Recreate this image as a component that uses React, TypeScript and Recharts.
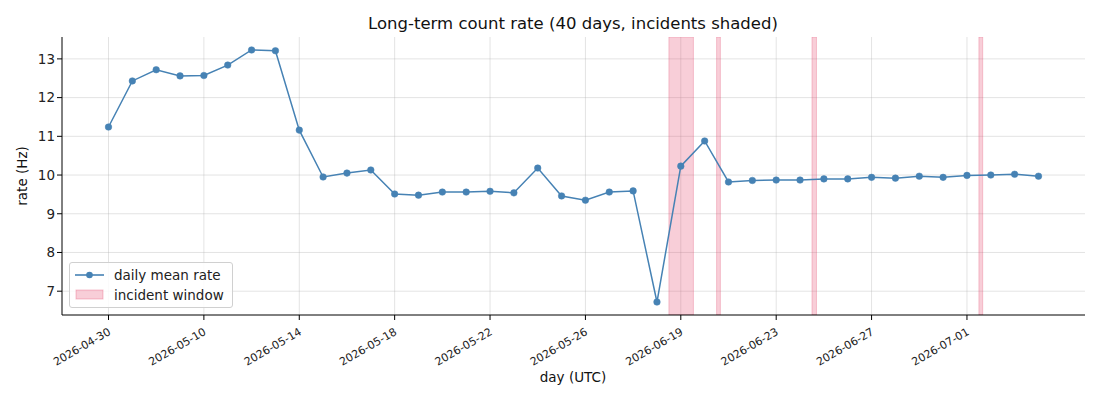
import { LineChart, Line, XAxis, YAxis, CartesianGrid, ReferenceArea } from 'recharts';

const days = [
  '2026-04-30', '2026-05-07', '2026-05-08', '2026-05-09', '2026-05-10', '2026-05-11', '2026-05-12', '2026-05-13',
  '2026-05-14', '2026-05-15', '2026-05-16', '2026-05-17', '2026-05-18', '2026-05-19', '2026-05-20', '2026-05-21',
  '2026-05-22', '2026-05-23', '2026-05-24', '2026-05-25', '2026-05-26', '2026-05-27', '2026-05-28', '2026-06-18',
  '2026-06-19', '2026-06-20', '2026-06-21', '2026-06-22', '2026-06-23', '2026-06-24', '2026-06-25', '2026-06-26',
  '2026-06-27', '2026-06-28', '2026-06-29', '2026-06-30', '2026-07-01', '2026-07-02', '2026-07-03', '2026-07-04',
];

const rate = [
  11.24, 12.43, 12.72, 12.56, 12.57, 12.84, 13.23, 13.21,
  11.16, 9.95, 10.05, 10.13, 9.51, 9.48, 9.56, 9.56,
  9.58, 9.54, 10.18, 9.46, 9.35, 9.56, 9.59, 6.72,
  10.23, 10.88, 9.82, 9.86, 9.87, 9.87, 9.90, 9.90,
  9.94, 9.92, 9.97, 9.94, 9.99, 10.00, 10.02, 9.97,
];

// incident windows, in day-index units
const incidentStart = [23.5, 25.5, 29.5, 36.5];
const incidentEnd = [24.53, 25.66, 29.69, 36.66];

const xTicks = [0, 4, 8, 12, 16, 20, 24, 28, 32, 36];
const yTicks = [7, 8, 9, 10, 11, 12, 13];

const X_DOMAIN: [number, number] = [-1.95, 40.95];
const Y_DOMAIN: [number, number] = [6.385, 13.565];

const data = rate.map((v, i) => ({ i, rate: v }));

const FONT = 'DejaVu Sans, sans-serif';

// grid lines only at the ticks (no lines on the plot edges)
const hGrid = ({ offset }: any) =>
  yTicks.map((t) => offset.top + (offset.height * (Y_DOMAIN[1] - t)) / (Y_DOMAIN[1] - Y_DOMAIN[0]));
const vGrid = ({ offset }: any) =>
  xTicks.map((t) => offset.left + (offset.width * (t - X_DOMAIN[0])) / (X_DOMAIN[1] - X_DOMAIN[0]));

const DateTick = (props: any) => {
  const { x, y, payload } = props;
  return (
    <text
      x={x + 3}
      y={y + 12}
      textAnchor="end"
      fontSize={11}
      fontFamily={FONT}
      fill="#222"
      transform={`rotate(-30, ${x + 3}, ${y + 12})`}
    >
      {days[payload.value]}
    </text>
  );
};

const LegendBox = () => (
  <div
    style={{
      position: 'absolute',
      left: 69,
      top: 262,
      boxSizing: 'border-box',
      width: 164,
      height: 46,
      border: '1px solid #d0d0d0',
      borderRadius: 3,
      background: 'rgba(255,255,255,0.85)',
      padding: '2px 6px 0 5px',
      fontFamily: FONT,
      fontSize: 13.5,
      color: '#222',
    }}
  >
    <div style={{ display: 'flex', alignItems: 'center', height: 20 }}>
      <svg width={30} height={10} style={{ marginRight: 9 }}>
        <line x1={0} y1={5} x2={29} y2={5} stroke="#4682b4" strokeWidth={1.6} />
        <circle cx={14.5} cy={5} r={3.3} fill="#4682b4" />
      </svg>
      daily mean rate
    </div>
    <div style={{ display: 'flex', alignItems: 'center', height: 20 }}>
      <svg width={30} height={12} style={{ marginRight: 9 }}>
        <rect x={1} y={1} width={27} height={9} fill="#e23d64" fillOpacity={0.25} stroke="#e23d64" strokeOpacity={0.3} />
      </svg>
      incident window
    </div>
  </div>
);

export default function App() {
  return (
    <div style={{ position: 'absolute', left: 0, top: 0, width: 1100, height: 400, background: '#fff' }}>
      <LineChart width={1100} height={400} data={data} margin={{ top: 37, right: 15, bottom: 0, left: 0 }}>
        <text x={573} y={29} textAnchor="middle" fontSize={16.5} fontFamily={FONT} fill="#111">
          Long-term count rate (40 days, incidents shaded)
        </text>
        <text x={573} y={382} textAnchor="middle" fontSize={13.5} fontFamily={FONT} fill="#111">
          day (UTC)
        </text>
        <text
          x={27}
          y={176}
          textAnchor="middle"
          fontSize={13.5}
          fontFamily={FONT}
          fill="#111"
          transform="rotate(-90, 27, 176)"
        >
          rate (Hz)
        </text>
        <CartesianGrid
          stroke="#b0b0b0"
          strokeOpacity={0.35}
          horizontalCoordinatesGenerator={hGrid}
          verticalCoordinatesGenerator={vGrid}
        />
        {incidentStart.map((s, k) => (
          <ReferenceArea
            key={k}
            x1={s}
            x2={incidentEnd[k]}
            fill="#e23d64"
            fillOpacity={0.25}
            stroke="#e23d64"
            strokeOpacity={0.25}
            ifOverflow="hidden"
          />
        ))}
        <XAxis
          dataKey="i"
          type="number"
          domain={X_DOMAIN}
          ticks={xTicks}
          interval={0}
          height={85}
          tickSize={5}
          tick={<DateTick />}
          axisLine={{ stroke: '#000', strokeWidth: 1 }}
          tickLine={{ stroke: '#000' }}
          allowDataOverflow
        />
        <YAxis
          type="number"
          domain={Y_DOMAIN}
          ticks={yTicks}
          width={62}
          tickSize={5}
          tick={{ fontSize: 13.5, fontFamily: FONT, fill: '#222' }}
          axisLine={{ stroke: '#000', strokeWidth: 1 }}
          tickLine={{ stroke: '#000' }}
          allowDataOverflow
        />
        <Line
          type="linear"
          dataKey="rate"
          stroke="#4682b4"
          strokeWidth={1.5}
          dot={{ r: 3.3, fill: '#4682b4', stroke: '#4682b4', strokeWidth: 0.5 }}
          activeDot={false}
          isAnimationActive={false}
        />
      </LineChart>
      <LegendBox />
    </div>
  );
}
